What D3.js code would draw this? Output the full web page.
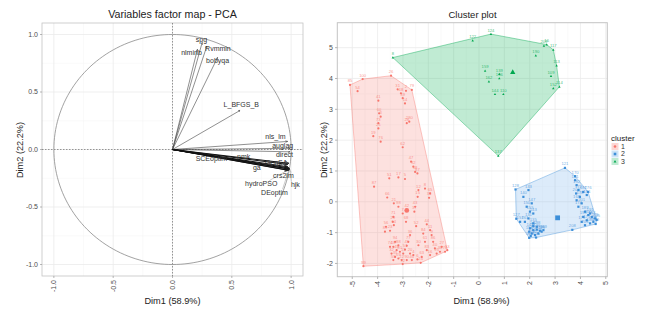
<!DOCTYPE html>
<html><head><meta charset="utf-8">
<script src="https://cdn.jsdelivr.net/npm/d3@7"></script>
<style>body{margin:0;background:#fff}svg{display:block;font-family:"Liberation Sans",Arial,sans-serif}</style>
</head><body><svg id="c" width="651" height="314"></svg>
<script>
// ---------- DATA ----------
const varNames = ["nlminb","spg","Rvmmin","bobyqa","L_BFGS_B","nls_lm","auglag","direct","nmk","SCEoptim","GenSA","ga","crs2lm","hydroPSO","hjk","DEoptim"];
const varDim1  = [0.21,0.25,0.29,0.38,0.57,0.97,0.99,0.99,0.97,0.97,0.98,0.98,0.98,0.97,0.99,0.98];
const varDim2  = [0.87,0.93,0.90,0.80,0.34,0.07,0.01,-0.02,-0.13,-0.15,-0.12,-0.16,-0.17,-0.18,-0.17,-0.18];
const varLabX  = [0.16,0.244,0.383,0.38,0.58,0.868,0.929,0.944,0.60,0.328,0.874,0.711,0.935,0.748,1.036,0.86];
const varLabY  = [0.845,0.958,0.878,0.777,0.393,0.113,0.035,-0.04,-0.06,-0.083,-0.113,-0.161,-0.225,-0.297,-0.306,-0.372];
const pcaTicks = [-1.0,-0.5,0.0,0.5,1.0];

const clusterIds = ["1","2","3"];
const cluster1 = [[-5.09,3.79,"85"],[-4.79,3.59,"54"],[-4.59,3.98,"100"],[-3.47,4.09,"26"],[-3.21,3.65,"31"],[-3.08,3.52,"48"],[-2.88,3.60,"2"],[-3.01,3.36,"39"],[-2.92,3.19,"14"],[-2.65,3.63,"79"],[-3.97,3.28,"41"],[-3.94,2.87,"60"],[-3.88,2.76,"3"],[-3.97,2.55,"73"],[-3.97,2.38,"25"],[-4.17,2.13,"19"],[-3.88,1.95,"76"],[-2.85,2.55,"28"],[-2.75,2.60,"280"],[-3.01,1.77,"62"],[-2.68,1.30,"47"],[-2.59,1.14,"92"],[-2.52,0.97,"58"],[-2.43,0.92,"97"],[-3.54,0.76,"51"],[-3.18,0.79,"17"],[-2.92,0.74,"5"],[-4.14,0.49,"87"],[-2.39,0.38,"12"],[-2.13,0.43,"8"],[-1.93,0.27,"65"],[-1.97,0.13,"33"],[-3.62,0.14,"66"],[-3.36,-0.05,"21"],[-3.18,-0.16,"98"],[-2.85,-0.25,"42"],[-3.01,-0.38,"7"],[-2.52,-0.16,"43"],[-2.42,0.16,"15"],[-2.55,-0.32,"37"],[-3.38,-0.49,"71"],[-3.40,-0.65,"29"],[-3.36,-0.76,"64"],[-3.67,-0.81,"56"],[-3.71,-0.97,"89"],[-3.51,-0.94,"23"],[-2.88,-0.65,"68"],[-2.48,-0.79,"52"],[-2.06,-0.73,"44"],[-1.93,-0.92,"11"],[-2.20,-1.03,"84"],[-1.87,-1.08,"9"],[-2.72,-1.08,"36"],[-2.79,-1.30,"77"],[-3.31,-1.30,"94"],[-3.38,-1.46,"18"],[-3.25,-1.57,"49"],[-3.12,-1.62,"81"],[-2.99,-1.68,"13"],[-2.92,-1.55,"57"],[-3.31,-1.79,"35"],[-3.18,-1.84,"69"],[-3.05,-1.89,"22"],[-2.85,-1.89,"90"],[-2.65,-1.89,"46"],[-2.43,-1.87,"6"],[-3.01,-2.02,"72"],[-4.56,-2.09,"99"],[-2.39,-1.41,"30"],[-2.13,-1.30,"61"],[-2.06,-1.57,"83"],[-1.93,-1.73,"16"],[-1.74,-1.51,"40"],[-1.67,-1.68,"95"],[-1.47,-1.46,"27"],[-1.34,-1.62,"70"],[-1.25,-1.57,"53"],[-1.54,-1.62,"38"],[-1.81,-1.30,"86"],[-2.59,-1.73,"4"],[-2.26,-1.79,"63"],[-3.45,-1.68,"32"],[-3.51,-1.46,"74"],[-2.72,-1.68,"20"],[-3.18,-1.41,"88"],[-2.85,-1.43,"45"],[-3.38,-1.89,"59"],[-2.30,-1.98,"24"]];
const cluster2 = [[3.39,1.10,"121"],[1.44,0.40,"128"],[1.47,-0.55,"127"],[1.98,-1.17,"141"],[3.68,-0.91,"208"],[4.60,-0.72,"199"],[4.64,-0.59,"185"],[4.30,0.32,"176"],[3.79,0.83,"170"],[1.75,0.16,"140"],[1.95,0.38,"133"],[2.08,-0.05,"147"],[1.88,-0.16,"150"],[2.01,-0.32,"155"],[2.14,-0.38,"143"],[1.95,-0.54,"131"],[1.62,-0.65,"157"],[1.81,-0.65,"161"],[2.14,-0.70,"135"],[2.01,-0.86,"148"],[2.14,-0.92,"153"],[2.28,-0.90,"126"],[2.41,-0.94,"158"],[2.08,-1.03,"132"],[2.21,-1.08,"160"],[2.34,-1.03,"145"],[2.47,-0.97,"129"],[2.14,-0.79,"142"],[1.98,-0.97,"154"],[2.28,-0.81,"138"],[2.54,-0.92,"149"],[2.04,-1.11,"134"],[2.25,-1.16,"156"],[3.79,0.70,"181"],[3.85,0.54,"192"],[3.92,0.38,"172"],[3.83,0.27,"203"],[4.11,0.32,"187"],[3.98,0.16,"178"],[4.25,0.22,"196"],[3.85,0.05,"168"],[4.05,-0.05,"201"],[3.92,-0.16,"174"],[4.18,-0.32,"189"],[4.31,-0.43,"205"],[4.45,-0.49,"183"],[4.11,-0.49,"198"],[4.25,-0.60,"171"],[4.51,-0.65,"194"],[4.05,-0.65,"179"],[4.38,-0.70,"186"],[4.18,-0.76,"206"],[4.58,-0.54,"175"],[4.38,-0.38,"191"]];
const cluster3 = [[-3.40,4.68,"8"],[-0.25,5.23,"122"],[0.47,5.44,"124"],[2.56,5.06,"209"],[2.67,5.10,"16"],[2.93,4.93,"117"],[2.24,4.74,"190"],[3.06,4.42,"113"],[2.84,4.08,"109"],[2.93,3.68,"152"],[3.17,3.73,"114"],[0.24,4.25,"159"],[0.80,4.14,"139"],[0.80,4.00,"136"],[0.39,3.90,"162"],[0.63,3.49,"144"],[0.96,3.49,"110"],[0.76,1.49,"137"]];
const centroids = [[-2.85,-0.28],[3.10,-0.52],[1.33,4.21]];
const clusterXTicks = [-5,-4,-3,-2,-1,0,1,2,3,4,5];
const clusterYTicks = [-2,-1,0,1,2,3,4,5];

// ---------- DRAW ----------
const svg = d3.select("#c");
const tickCol = "#4d4d4d", gridCol = "#ebebeb", borderCol = "#c4c4c4";

// ===== Left panel =====
const xL = d3.scaleLinear([-1.1,1.1],[42,303]);
const yL = d3.scaleLinear([-1.1,1.1],[276,23]);
const L = svg.append("g");
// minor grid
const minorL = [-0.75,-0.25,0.25,0.75];
L.selectAll(".mgx").data(minorL).join("line").attr("x1",d=>xL(d)).attr("x2",d=>xL(d)).attr("y1",23).attr("y2",276).attr("stroke","#f4f4f4").attr("stroke-width",0.5);
L.selectAll(".mgy").data(minorL).join("line").attr("y1",d=>yL(d)).attr("y2",d=>yL(d)).attr("x1",42).attr("x2",303).attr("stroke","#f4f4f4").attr("stroke-width",0.5);
L.selectAll(".gx").data(pcaTicks).join("line").attr("x1",d=>xL(d)).attr("x2",d=>xL(d)).attr("y1",23).attr("y2",276).attr("stroke",gridCol).attr("stroke-width",0.8);
L.selectAll(".gy").data(pcaTicks).join("line").attr("y1",d=>yL(d)).attr("y2",d=>yL(d)).attr("x1",42).attr("x2",303).attr("stroke",gridCol).attr("stroke-width",0.8);
L.append("rect").attr("x",42).attr("y",23).attr("width",261).attr("height",253).attr("fill","none").attr("stroke",borderCol).attr("stroke-width",0.8);
// zero dashed lines
L.append("line").attr("x1",xL(0)).attr("x2",xL(0)).attr("y1",23).attr("y2",276).attr("stroke","#555").attr("stroke-width",0.6).attr("stroke-dasharray","1.5,1.5");
L.append("line").attr("y1",yL(0)).attr("y2",yL(0)).attr("x1",42).attr("x2",303).attr("stroke","#555").attr("stroke-width",0.6).attr("stroke-dasharray","1.5,1.5");
// correlation circle
const ang = d3.range(0,361,2).map(a=>a*Math.PI/180);
L.append("path").attr("d",d3.line().x(a=>xL(Math.cos(a))).y(a=>yL(Math.sin(a)))(ang)).attr("fill","none").attr("stroke","#8a8a8a").attr("stroke-width",0.8);
// arrows
const defs = svg.append("defs");
defs.append("marker").attr("id","ah").attr("viewBox","0 0 6 6").attr("refX",5.5).attr("refY",3).attr("markerWidth",4).attr("markerHeight",4).attr("orient","auto")
  .append("path").attr("d","M0,0.5L6,3L0,5.5").attr("fill","none").attr("stroke","#222").attr("stroke-width",1);
const vars = varNames.map((n,i)=>({n,x:varDim1[i],y:varDim2[i],lx:varLabX[i],ly:varLabY[i]}));
// repel connector segments for labels far from tips
vars.filter(v=>["hydroPSO","hjk","DEoptim","crs2lm"].includes(v.n)).forEach(v=>{
  L.append("line").attr("x1",xL(v.x)).attr("y1",yL(v.y)).attr("x2",xL(v.lx)+ (v.n==="hjk"?-4:8)).attr("y2",yL(v.ly)-3).attr("stroke","#999").attr("stroke-width",0.5);
});
L.selectAll(".arr").data(vars).join("line").attr("x1",xL(0)).attr("y1",yL(0)).attr("x2",d=>xL(d.x)).attr("y2",d=>yL(d.y))
  .attr("stroke",d=>d.y< -0.05?"#111":"#444").attr("stroke-width",d=>d.y< -0.05?1.0:0.6).attr("marker-end","url(#ah)");
L.selectAll(".vl").data(vars).join("text").attr("x",d=>xL(d.lx)).attr("y",d=>yL(d.ly)).attr("dy","0.35em").attr("text-anchor","middle")
  .attr("font-size",7).attr("fill","#333").text(d=>d.n);
// axes
L.selectAll(".ytl").data(pcaTicks).join("text").attr("x",38).attr("y",d=>yL(d)).attr("dy","0.35em").attr("text-anchor","end").attr("font-size",7).attr("fill",tickCol).text(d=>d.toFixed(1));
L.selectAll(".yt").data(pcaTicks).join("line").attr("x1",40).attr("x2",42).attr("y1",d=>yL(d)).attr("y2",d=>yL(d)).attr("stroke","#888").attr("stroke-width",0.6);
L.selectAll(".xt").data(pcaTicks).join("line").attr("y1",276).attr("y2",278).attr("x1",d=>xL(d)).attr("x2",d=>xL(d)).attr("stroke","#888").attr("stroke-width",0.6);
L.selectAll(".xtl").data(pcaTicks).join("text").attr("transform",d=>`translate(${xL(d)},280) rotate(-90)`).attr("dy","0.35em").attr("text-anchor","end").attr("font-size",7).attr("fill",tickCol).text(d=>d.toFixed(1));
L.append("text").attr("x",172.5).attr("y",304).attr("text-anchor","middle").attr("font-size",9.2).attr("fill","#222").text("Dim1 (58.9%)");
L.append("text").attr("transform","translate(20,150) rotate(-90)").attr("dy","0.35em").attr("text-anchor","middle").attr("font-size",9.2).attr("fill","#222").text("Dim2 (22.2%)");
L.append("text").attr("x",172.5).attr("y",18).attr("text-anchor","middle").attr("font-size",10.7).attr("fill","#222").text("Variables factor map - PCA");

// ===== Right panel =====
const xR = d3.scaleLinear([-5.59,5.06],[337.3,607.3]);
const yR = d3.scaleLinear([-2.43,5.81],[276.7,22.7]);
const colors = ["#F8766D","#3D8FD9","#00A84F"];
const fills = ["#F8766D","#5EA6E6","#2DBE6C"];
const R = svg.append("g");
const minorX = clusterXTicks.slice(0,-1).map(d=>d+0.5), minorY = clusterYTicks.slice(0,-1).map(d=>d+0.5);
R.selectAll(".mgx").data(minorX).join("line").attr("x1",d=>xR(d)).attr("x2",d=>xR(d)).attr("y1",22.7).attr("y2",276.7).attr("stroke","#f5f5f5").attr("stroke-width",0.5);
R.selectAll(".mgy").data(minorY).join("line").attr("y1",d=>yR(d)).attr("y2",d=>yR(d)).attr("x1",337.3).attr("x2",607.3).attr("stroke","#f5f5f5").attr("stroke-width",0.5);
R.selectAll(".gx").data(clusterXTicks).join("line").attr("x1",d=>xR(d)).attr("x2",d=>xR(d)).attr("y1",22.7).attr("y2",276.7).attr("stroke",gridCol).attr("stroke-width",0.8);
R.selectAll(".gy").data(clusterYTicks).join("line").attr("y1",d=>yR(d)).attr("y2",d=>yR(d)).attr("x1",337.3).attr("x2",607.3).attr("stroke",gridCol).attr("stroke-width",0.8);
R.append("rect").attr("x",337.3).attr("y",22.7).attr("width",270).attr("height",254).attr("fill","none").attr("stroke",borderCol).attr("stroke-width",1);

const clusters = [cluster1,cluster2,cluster3];
clusters.forEach((pts,ci)=>{
  const px = pts.map(p=>[xR(p[0]),yR(p[1])]);
  const hull = d3.polygonHull(px);
  R.append("path").attr("d","M"+hull.join("L")+"Z").attr("fill",fills[ci]).attr("fill-opacity",ci===2?0.3:0.22)
    .attr("stroke",colors[ci]).attr("stroke-opacity",0.5).attr("stroke-width",0.8);
});
function sym(g,ci,x,y,s){
  if(ci===0) g.append("circle").attr("cx",x).attr("cy",y).attr("r",s).attr("fill",colors[0]);
  else if(ci===1) g.append("rect").attr("x",x-s).attr("y",y-s).attr("width",2*s).attr("height",2*s).attr("fill",colors[1]);
  else g.append("path").attr("d",`M${x},${y-s*1.2}L${x+s*1.1},${y+s*0.8}L${x-s*1.1},${y+s*0.8}Z`).attr("fill",colors[2]);
}
clusters.forEach((pts,ci)=>{
  const g = R.append("g");
  pts.forEach(p=>{
    g.append("text").attr("x",xR(p[0])).attr("y",yR(p[1])-2.5).attr("text-anchor","middle").attr("font-size",4.2)
      .attr("fill",colors[ci]).attr("fill-opacity",0.75).text(p[2]);
  });
  pts.forEach(p=>sym(g,ci,xR(p[0]),yR(p[1]),1.1));
});
centroids.forEach((c,ci)=>sym(R,ci,xR(c[0]),yR(c[1]),2.4));
// axes
R.selectAll(".ytl").data(clusterYTicks).join("text").attr("x",333).attr("y",d=>yR(d)).attr("dy","0.35em").attr("text-anchor","end").attr("font-size",7).attr("fill",tickCol).text(d=>d);
R.selectAll(".yt").data(clusterYTicks).join("line").attr("x1",335).attr("x2",337.3).attr("y1",d=>yR(d)).attr("y2",d=>yR(d)).attr("stroke","#888").attr("stroke-width",0.6);
R.selectAll(".xt").data(clusterXTicks).join("line").attr("y1",276.7).attr("y2",279).attr("x1",d=>xR(d)).attr("x2",d=>xR(d)).attr("stroke","#888").attr("stroke-width",0.6);
R.selectAll(".xtl").data(clusterXTicks).join("text").attr("transform",d=>`translate(${xR(d)},281) rotate(-90)`).attr("dy","0.35em").attr("text-anchor","end").attr("font-size",7).attr("fill",tickCol).text(d=>d);
R.append("text").attr("x",481.5).attr("y",304).attr("text-anchor","middle").attr("font-size",9.2).attr("fill","#222").text("Dim1 (58.9%)");
R.append("text").attr("transform","translate(324,150) rotate(-90)").attr("dy","0.35em").attr("text-anchor","middle").attr("font-size",9.2).attr("fill","#222").text("Dim2 (22.2%)");
R.append("text").attr("x",472.5).attr("y",18).attr("text-anchor","middle").attr("font-size",9.5).attr("fill","#222").text("Cluster plot");
// legend
const lg = svg.append("g");
lg.append("text").attr("x",611).attr("y",141).attr("font-size",8).attr("fill","#222").text("cluster");
clusterIds.forEach((id,i)=>{
  const y0 = 143 + i*7.5;
  lg.append("rect").attr("x",611.5).attr("y",y0).attr("width",7).attr("height",7).attr("fill",fills[i]).attr("fill-opacity",0.3);
  sym(lg,i,615,y0+3.5,1.3);
  lg.append("text").attr("x",621).attr("y",y0+3.5).attr("dy","0.35em").attr("font-size",7).attr("fill","#333").text(id);
});
</script></body></html>
